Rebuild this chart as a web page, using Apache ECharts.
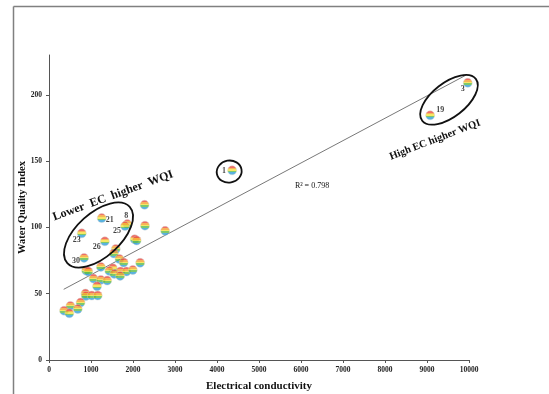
<!DOCTYPE html>
<html><head><meta charset="utf-8">
<script src="https://cdn.jsdelivr.net/npm/echarts@6/dist/echarts.min.js"></script>
<style>html,body{margin:0;padding:0;background:#fff}#c{width:549px;height:394px}</style>
</head><body><div id="c"></div>
<script>
// ---- data ----
const ecValues = [4360, 9970, 9075, 2275, 1255, 1865, 1810, 2285, 2765, 780,
  2040, 2087, 1330, 1590, 1545, 835, 1678, 1778, 2170, 1235,
  1519, 885, 935, 1436, 1703, 1845, 1995, 1553, 1694, 1060,
  1235, 1386, 1144, 868, 876, 1018, 1160, 751, 509, 359, 684, 484];
const wqiValues = [143, 209, 184.5, 117, 107, 102.5, 101, 101.3, 97.4, 95.5,
  91.1, 90.1, 89.5, 83.7, 80.3, 77, 76.2, 73.5, 73.3, 70.2,
  69.2, 67.4, 66.7, 67.2, 66.7, 66.7, 67.9, 64.9, 63.4, 61.4,
  60.4, 59.9, 55.6, 50.1, 48.3, 48.6, 48.6, 43.3, 40.8, 37.2, 38.5, 35.2];
const sampleLabels = ['1', '3', '19', '', '21', '8', '25', '', '', '23',
  '', '', '26', '', '', '30', '', '', '', '',
  '', '', '', '', '', '', '', '', '', '',
  '', '', '', '', '', '', '', '', '', '', '', ''];
const xTicks = [0, 1000, 2000, 3000, 4000, 5000, 6000, 7000, 8000, 9000, 10000];
const yTicks = [0, 50, 100, 150, 200];
const trendX = [350, 9940];
const trendY = [53.3, 215];
const r2Text = 'R\u00b2 = 0.798';
const xTitle = 'Electrical conductivity';
const yTitle = 'Water Quality Index';
const lowText = 'Lower  EC  higher  WQI';
const highText = 'High EC higher WQI';

// ---- styling / layout ----
const serif = '"Liberation Serif", "DejaVu Serif", serif';
const labelOffsets = {
  '3': [-5, 6], '19': [10, -5], '1': [-8, 1], '21': [8, 2], '8': [-1, -8],
  '25': [-8, 5], '23': [-5, 7], '26': [-8, 6], '30': [-8, 3]
};
const markerFill = new echarts.graphic.LinearGradient(0, 0, 0, 1, [
  {offset: 0, color: '#ec4a3e'}, {offset: 0.22, color: '#ec4a3e'},
  {offset: 0.22, color: '#f5a030'}, {offset: 0.4, color: '#f5a030'},
  {offset: 0.4, color: '#f3e03e'}, {offset: 0.55, color: '#f3e03e'},
  {offset: 0.55, color: '#5dbb48'}, {offset: 0.72, color: '#5dbb48'},
  {offset: 0.72, color: '#2f9fd8'}, {offset: 1, color: '#2f9fd8'}
]);

const points = ecValues.map((x, i) => {
  const lab = sampleLabels[i];
  const item = {value: [x, wqiValues[i]], name: lab};
  if (lab) {
    item.label = {show: true, position: 'inside', formatter: lab, offset: labelOffsets[lab] || [0, 0]};
  }
  return item;
});

const chart = echarts.init(document.getElementById('c'), null, {renderer: 'canvas'});
chart.setOption({
  animation: false,
  backgroundColor: '#fff',
  grid: {left: 49, right: 80, top: 55, bottom: 34, containLabel: false, outerBoundsMode: 'none'},
  xAxis: {
    type: 'value', min: xTicks[0], max: xTicks[xTicks.length - 1], interval: 1000,
    name: xTitle, nameLocation: 'middle', nameGap: 21, nameMoveOverlap: false,
    nameTextStyle: {fontFamily: serif, fontWeight: 'bold', fontSize: 11, color: '#111'},
    axisLine: {lineStyle: {color: '#555', width: 1}},
    axisTick: {show: true, length: 3, lineStyle: {color: '#555'}},
    axisLabel: {fontFamily: serif, fontWeight: 'bold', fontSize: 7.5, color: '#222', margin: 6,
      formatter: v => String(v)},
    splitLine: {show: false}
  },
  yAxis: {
    type: 'value', min: 0, max: 230,
    name: yTitle, nameLocation: 'middle', nameGap: 21, nameMoveOverlap: false,
    nameTextStyle: {fontFamily: serif, fontWeight: 'bold', fontSize: 10.5, color: '#111'},
    axisLine: {show: true, lineStyle: {color: '#555', width: 1}},
    axisTick: {show: true, length: 3, customValues: yTicks, lineStyle: {color: '#555'}},
    axisLabel: {fontFamily: serif, fontWeight: 'bold', fontSize: 7.5, color: '#222', margin: 7, customValues: yTicks},
    splitLine: {show: false}
  },
  series: [
    {
      type: 'line', data: trendX.map((x, i) => [x, trendY[i]]),
      symbol: 'none', lineStyle: {color: '#555', width: 0.8}, z: 1, silent: true
    },
    {
      type: 'scatter', data: points, symbol: 'circle', symbolSize: 9,
      itemStyle: {color: markerFill, borderColor: '#d0d0d0', borderWidth: 0.5},
      label: {show: false, fontFamily: serif, fontWeight: 'bold', fontSize: 8, color: '#111'},
      z: 3
    }
  ]
});

// annotations placed in data coordinates
function px(x, y) { return chart.convertToPixel({gridIndex: 0}, [x, y]); }
const deg = Math.PI / 180;
const ellipses = [
  {c: [1179, 94.3], rx: 42, ry: 22, rot: 42},
  {c: [4290, 142.1], rx: 12.5, ry: 11, rot: 10},
  {c: [9524, 196.2], rx: 34, ry: 17, rot: 38}
];
const texts = [
  {c: [1524, 123.8], t: lowText, size: 12, rot: 20, bold: true},
  {c: [9190, 166], t: highText, size: 10.5, rot: 21, bold: true},
  {c: [6262, 131.3], t: r2Text, size: 8, rot: 0, bold: false}
];
const graphics = [
  {type: 'line', shape: {x1: 13.5, y1: 6.5, x2: 549, y2: 6.5}, style: {stroke: '#808080', lineWidth: 1.5}},
  {type: 'line', shape: {x1: 13.5, y1: 6.5, x2: 13.5, y2: 394}, style: {stroke: '#808080', lineWidth: 1.5}}
];
ellipses.forEach(e => {
  const p = px(e.c[0], e.c[1]);
  graphics.push({type: 'ellipse', x: p[0], y: p[1], rotation: e.rot * deg,
    shape: {cx: 0, cy: 0, rx: e.rx, ry: e.ry},
    style: {fill: 'none', stroke: '#111', lineWidth: 1.8}, z: 10});
});
texts.forEach(t => {
  const p = px(t.c[0], t.c[1]);
  graphics.push({type: 'text', x: p[0], y: p[1], rotation: t.rot * deg,
    style: {text: t.t, x: 0, y: 0, align: 'center', verticalAlign: 'middle',
      font: (t.bold ? 'bold ' : '') + t.size + 'px ' + serif, fill: '#111'}, z: 10});
});
chart.setOption({graphic: graphics});
</script>
</body></html>
